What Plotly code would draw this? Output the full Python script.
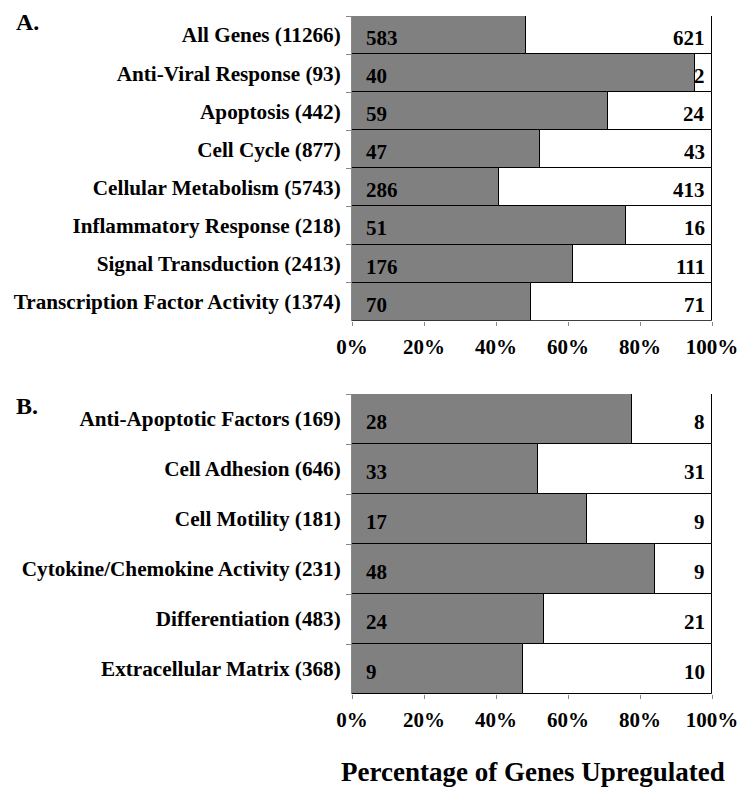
import plotly.graph_objects as go

# Panel A data
cats_a = ["All Genes (11266)", "Anti-Viral Response (93)", "Apoptosis (442)", "Cell Cycle (877)",
          "Cellular Metabolism (5743)", "Inflammatory Response (218)", "Signal Transduction (2413)",
          "Transcription Factor Activity (1374)"]
up_a = [583, 40, 59, 47, 286, 51, 176, 70]
down_a = [621, 2, 24, 43, 413, 16, 111, 71]

# Panel B data
cats_b = ["Anti-Apoptotic Factors (169)", "Cell Adhesion (646)", "Cell Motility (181)",
          "Cytokine/Chemokine Activity (231)", "Differentiation (483)", "Extracellular Matrix (368)"]
up_b = [28, 33, 17, 48, 24, 9]
down_b = [8, 31, 9, 9, 21, 10]

tick_vals = [0, 20, 40, 60, 80, 100]
tick_text = ["0%", "20%", "40%", "60%", "80%", "100%"]
x_title = "Percentage of Genes Upregulated"

FONT = "Liberation Serif"
GRAY = "#808080"
OFF = 8
W, H = 753 - OFF, 799 - OFF

def px(x):
    return (x - OFF) / W

def py(y):
    return 1 - (y - OFF) / H

fig = go.Figure()

def add_panel(cats, up, down, xa, ya):
    pct_up = [u / (u + d) * 100 for u, d in zip(up, down)]
    pct_dn = [100 - p for p in pct_up]
    fig.add_trace(go.Bar(y=cats, x=pct_up, orientation="h", xaxis=xa, yaxis=ya,
                         marker=dict(color=GRAY, line=dict(color="black", width=1)),
                         hoverinfo="skip", showlegend=False))
    fig.add_trace(go.Bar(y=cats, x=pct_dn, base=pct_up, orientation="h", xaxis=xa, yaxis=ya,
                         marker=dict(color="white", line=dict(color="black", width=1)),
                         hoverinfo="skip", showlegend=False))
    for c, u, d in zip(cats, up, down):
        fig.add_annotation(x=0, y=c, xref=xa, yref=ya, text=str(u), showarrow=False,
                           xanchor="left", xshift=12, yshift=-3,
                           font=dict(family=FONT, size=21, color="black", weight="bold"))
        fig.add_annotation(x=100, y=c, xref=xa, yref=ya, text=str(d), showarrow=False,
                           xanchor="right", xshift=-5, yshift=-3,
                           font=dict(family=FONT, size=21, color="black", weight="bold"))

add_panel(cats_a, up_a, down_a, "x", "y")
add_panel(cats_b, up_b, down_b, "x2", "y2")

xdom = [px(352), px(712)]
xaxis_common = dict(range=[0, 100], tickvals=tick_vals, ticktext=tick_text, showgrid=False,
                    zeroline=False, ticks="outside", ticklen=4, tickcolor="#888888",
                    showline=False, fixedrange=True, automargin=False,
                    tickfont=dict(family=FONT, size=21, color="black", weight="bold"),
                    ticklabelstandoff=3)
yaxis_common = dict(autorange="reversed", showgrid=False, zeroline=False, ticks="outside",
                    tickson="boundaries", ticklen=5, tickcolor="#888888",
                    showline=True, linecolor="#888888", linewidth=1, fixedrange=True,
                    automargin=False,
                    tickfont=dict(family=FONT, size=21.2, color="black", weight="bold"),
                    ticklabelstandoff=6)

fig.update_layout(
    width=W, height=H,
    margin=dict(l=0, r=0, t=0, b=0, autoexpand=False),
    paper_bgcolor="white", plot_bgcolor="white",
    barmode="overlay", bargap=0,
    font=dict(family=FONT),
    xaxis=dict(domain=xdom, anchor="y", **xaxis_common),
    yaxis=dict(domain=[py(320.7), py(16)], anchor="x", **yaxis_common),
    xaxis2=dict(domain=xdom, anchor="y2", **xaxis_common),
    yaxis2=dict(domain=[py(694), py(394)], anchor="x2", **yaxis_common),
)

fig.add_annotation(x=px(14), y=py(22), xref="paper", yref="paper", text="A.",
                   showarrow=False, xanchor="left", yanchor="middle",
                   font=dict(family=FONT, size=24, color="black", weight="bold"))
fig.add_annotation(x=px(14), y=py(406), xref="paper", yref="paper", text="B.",
                   showarrow=False, xanchor="left", yanchor="middle",
                   font=dict(family=FONT, size=24, color="black", weight="bold"))
fig.add_annotation(x=px(533), y=py(772), xref="paper", yref="paper", text=x_title,
                   showarrow=False, xanchor="center", yanchor="middle",
                   font=dict(family=FONT, size=27, color="black", weight="bold"))

fig.write_html("out.html")
